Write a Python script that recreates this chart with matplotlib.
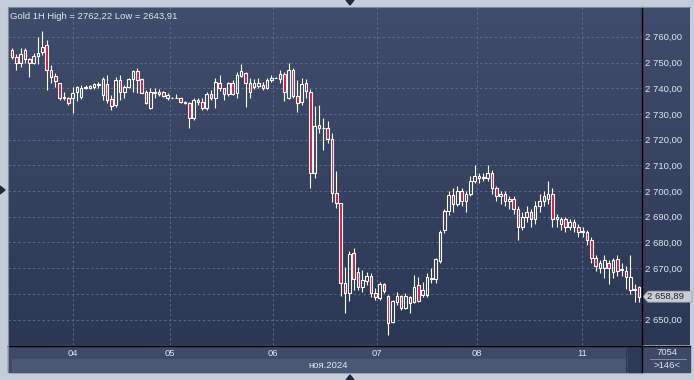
import numpy as np
import matplotlib
matplotlib.use('Agg')
import matplotlib.pyplot as plt
import matplotlib.transforms as mtransforms
from matplotlib.patches import Polygon, Rectangle
from matplotlib.lines import Line2D

# ── Data (Gold 1H) ───────────────────────────────────────────────────────────
opens = [2754.9, 2752.0, 2749.7, 2754.9, 2751.4, 2749.7, 2752.6, 2753.9, 2756.8, 2747.1,
         2744.9, 2741.9, 2736.7, 2736.1, 2736.1, 2738.4, 2736.5, 2740.0, 2740.0, 2740.6,
         2741.3, 2737.4, 2741.6, 2735.8, 2733.5, 2743.2, 2738.4, 2740.6, 2743.5, 2746.7,
         2743.6, 2738.6, 2732.2, 2738.0, 2737.6, 2738.4, 2736.3, 2736.3, 2736.3, 2736.3,
         2734.7, 2734.1, 2728.3, 2735.4, 2734.5, 2732.2, 2737.6, 2736.3, 2741.9, 2740.0,
         2737.6, 2741.9, 2738.0, 2744.9, 2745.8, 2741.9, 2740.6, 2740.9, 2741.2, 2740.2,
         2743.2, 2744.1, 2743.6, 2745.4, 2736.3, 2747.1, 2737.1, 2734.7, 2741.9, 2738.5,
         2707.0, 2725.7, 2724.5, 2724.5, 2720.2, 2699.2, 2695.3, 2664.2, 2660.3, 2675.9,
         2668.6, 2662.8, 2665.1, 2666.9, 2660.2, 2658.2, 2663.8, 2659.1, 2649.1, 2656.9,
         2659.1, 2654.4, 2658.6, 2656.9, 2663.4, 2659.5, 2659.5, 2665.8, 2665.6, 2672.9,
         2684.8, 2692.2, 2698.5, 2695.0, 2700.0, 2696.0, 2699.0, 2704.0, 2706.0, 2705.0,
         2705.0, 2707.0, 2701.0, 2698.0, 2699.0, 2696.0, 2697.0, 2693.0, 2686.0, 2690.0,
         2692.0, 2689.0, 2694.0, 2696.0, 2697.0, 2699.0, 2689.0, 2687.0, 2689.0, 2686.0,
         2688.0, 2686.0, 2684.0, 2684.0, 2681.0, 2674.0, 2670.0, 2670.0, 2672.0, 2668.5,
         2673.5, 2669.3, 2669.0, 2661.5, 2662.0, 2662.6]
highs = [2755.7, 2753.2, 2755.5, 2755.5, 2751.9, 2753.6, 2760.0, 2762.2, 2758.8, 2749.0,
         2745.8, 2741.9, 2738.6, 2736.7, 2740.6, 2740.9, 2741.3, 2741.3, 2741.3, 2742.0,
         2742.5, 2744.5, 2745.1, 2737.4, 2744.5, 2745.1, 2741.2, 2743.9, 2747.1, 2748.0,
         2743.9, 2739.3, 2740.0, 2740.0, 2739.6, 2738.9, 2738.0, 2736.4, 2737.6, 2736.7,
         2735.2, 2734.7, 2736.1, 2736.1, 2736.3, 2738.6, 2739.3, 2743.9, 2745.1, 2740.2,
         2742.5, 2743.2, 2746.4, 2749.5, 2746.4, 2743.9, 2743.6, 2744.0, 2742.5, 2744.0,
         2745.1, 2744.3, 2747.1, 2746.4, 2749.7, 2748.0, 2743.2, 2743.9, 2743.6, 2739.5,
         2733.1, 2733.5, 2728.4, 2727.2, 2722.6, 2707.8, 2695.5, 2670.5, 2676.5, 2677.8,
         2670.5, 2669.3, 2668.6, 2668.0, 2662.2, 2664.7, 2664.3, 2659.5, 2657.6, 2660.8,
         2659.5, 2660.2, 2659.1, 2667.3, 2666.7, 2664.7, 2668.0, 2669.9, 2673.8, 2684.8,
         2693.0, 2700.0, 2701.0, 2702.0, 2701.0, 2700.0, 2706.0, 2710.0, 2707.0, 2707.0,
         2710.0, 2708.0, 2702.0, 2700.0, 2700.0, 2698.0, 2698.0, 2694.0, 2692.0, 2694.0,
         2693.0, 2696.0, 2699.0, 2700.0, 2704.0, 2701.0, 2691.0, 2690.0, 2690.0, 2689.0,
         2689.0, 2687.0, 2686.0, 2685.0, 2682.0, 2675.0, 2673.0, 2675.0, 2673.0, 2674.0,
         2675.0, 2672.0, 2671.0, 2675.0, 2664.0, 2663.0]
lows = [2751.2, 2747.1, 2748.4, 2749.7, 2744.5, 2749.3, 2749.3, 2752.9, 2739.3, 2741.9,
        2740.6, 2735.5, 2735.4, 2733.5, 2730.2, 2735.0, 2735.7, 2739.5, 2739.5, 2739.5,
        2740.0, 2735.4, 2734.2, 2731.5, 2732.8, 2735.4, 2736.1, 2740.0, 2738.6, 2738.0,
        2738.0, 2733.8, 2732.0, 2736.3, 2737.0, 2736.7, 2735.4, 2736.2, 2736.2, 2734.1,
        2733.7, 2724.4, 2727.6, 2733.5, 2731.5, 2731.5, 2735.4, 2732.2, 2738.9, 2735.4,
        2737.0, 2737.4, 2736.3, 2744.5, 2732.8, 2736.1, 2739.7, 2740.0, 2739.3, 2739.7,
        2742.5, 2744.0, 2741.9, 2735.0, 2735.8, 2736.1, 2730.9, 2733.5, 2736.3, 2701.2,
        2705.0, 2722.6, 2716.0, 2718.7, 2695.7, 2693.4, 2659.1, 2652.6, 2657.2, 2661.5,
        2661.5, 2660.8, 2663.4, 2658.9, 2657.6, 2657.6, 2660.2, 2643.9, 2648.6, 2655.6,
        2653.7, 2654.2, 2652.4, 2656.3, 2656.9, 2658.9, 2658.9, 2664.1, 2664.1, 2671.9,
        2683.5, 2690.5, 2692.0, 2694.0, 2694.0, 2692.0, 2698.0, 2703.0, 2703.0, 2704.0,
        2704.0, 2699.0, 2696.0, 2695.0, 2694.0, 2693.0, 2691.0, 2681.0, 2685.0, 2688.0,
        2686.0, 2687.0, 2692.0, 2694.0, 2695.0, 2686.0, 2686.0, 2685.0, 2684.0, 2685.0,
        2684.0, 2682.0, 2682.0, 2679.0, 2672.0, 2669.0, 2668.0, 2666.0, 2664.0, 2666.0,
        2667.0, 2667.0, 2662.0, 2660.0, 2657.0, 2657.0]
closes = [2752.0, 2749.7, 2753.2, 2751.4, 2749.7, 2752.6, 2753.6, 2756.1, 2747.1, 2744.5,
          2742.9, 2736.1, 2736.3, 2734.1, 2738.2, 2740.6, 2740.0, 2740.6, 2741.0, 2741.5,
          2741.6, 2743.6, 2735.4, 2733.2, 2743.2, 2738.6, 2740.6, 2743.6, 2746.7, 2743.2,
          2738.2, 2734.1, 2738.6, 2738.6, 2738.4, 2737.1, 2737.4, 2736.3, 2736.2, 2734.7,
          2734.1, 2728.3, 2735.4, 2734.5, 2732.4, 2737.6, 2736.1, 2742.5, 2740.0, 2737.6,
          2741.9, 2737.6, 2745.1, 2746.7, 2741.9, 2738.6, 2741.9, 2741.9, 2740.0, 2743.2,
          2744.1, 2744.1, 2745.4, 2738.4, 2747.1, 2737.1, 2734.1, 2741.5, 2738.9, 2707.0,
          2725.3, 2724.5, 2724.6, 2720.2, 2699.2, 2695.3, 2664.2, 2660.3, 2675.6, 2665.8,
          2662.8, 2665.4, 2666.9, 2660.2, 2658.6, 2663.8, 2661.2, 2648.8, 2657.3, 2659.1,
          2654.4, 2659.1, 2656.5, 2662.8, 2657.2, 2661.5, 2666.7, 2666.2, 2673.4, 2684.2,
          2692.2, 2698.5, 2695.0, 2700.0, 2696.0, 2699.0, 2704.0, 2706.0, 2705.0, 2705.5,
          2707.0, 2701.0, 2698.0, 2699.0, 2696.0, 2697.0, 2693.0, 2686.0, 2690.0, 2692.0,
          2689.0, 2694.0, 2696.0, 2698.0, 2699.0, 2689.0, 2690.0, 2689.0, 2686.0, 2688.0,
          2686.0, 2684.0, 2684.5, 2681.0, 2674.0, 2671.0, 2672.0, 2673.0, 2670.0, 2673.0,
          2669.0, 2669.5, 2666.5, 2666.5, 2661.5, 2658.89]

day_ticks = [14.1, 36.5, 60.4, 84.5, 107.6, 131.8]
day_labels = ['04', '05', '06', '07', '08', '11']
price_ticks = list(range(2650, 2761, 10))
title_text = 'Gold 1H High = 2762,22 Low = 2643,91'
month_label = 'ноя.2024'
last_price = 2658.89
bar_count = '7054'
visible_bars = '>146<'

# ── Colours ──────────────────────────────────────────────────────────────────
FRAME = '#c4cdd9'
TXT = '#dfe6f0'
RED = '#e0143c'
GRID = '#5a6a8b'

W, H = 694, 380
plt.rcParams['font.family'] = ['Liberation Sans', 'DejaVu Sans']


def fx(x):
    return x / W


def fy(y):
    return 1 - y / H


def ru_fmt(v):
    return f'{v:,.2f}'.replace(',', ' ').replace('.', ',')


fig = plt.figure(figsize=(W / 100, H / 100), dpi=100, facecolor=FRAME)

# bottom strip (day labels + month band) - behind the axes
for (x0, y0, x1, y1, col) in [(8, 345, 642, 372, '#3c4967'),
                              (12, 359, 626, 372, '#4a5876'),
                              (628, 346, 642, 372, '#2c3957'),
                              (643, 346, 690, 372, '#3c4967')]:
    fig.patches.append(Rectangle((fx(x0), fy(y1)), fx(x1 - x0), (y1 - y0) / H,
                                 transform=fig.transFigure, color=col, zorder=-2))

# gradient background for chart + right price panel
bg = fig.add_axes([fx(8), fy(345), fx(690 - 8), (345 - 7) / H])
bg.set_zorder(-1)
grad = np.linspace(0, 1, 256).reshape(-1, 1)
top_c = np.array([0.250, 0.298, 0.420])
bot_c = np.array([0.169, 0.220, 0.333])
img = top_c[None, None, :] * (1 - grad[..., None]) + bot_c[None, None, :] * grad[..., None]
bg.imshow(img, aspect='auto', extent=[0, 1, 0, 1])
bg.axis('off')

# ── Candles ──────────────────────────────────────────────────────────────────
ax = fig.add_axes([fx(8), fy(345), fx(642 - 8), (345 - 7) / H])
ax.set_facecolor('none')
ax.set_zorder(1)

x = np.arange(len(opens))
o = np.array(opens)
c = np.array(closes)
hi = np.array(highs)
lo = np.array(lows)
body_lo = np.minimum(o, c)
body_hi = np.maximum(o, c)
bear = c < o

ax.vlines(x, body_hi, hi, color='white', lw=0.8, zorder=3)
ax.vlines(x, lo, body_lo, color='white', lw=0.8, zorder=3)
ax.bar(x[bear], (body_hi - body_lo)[bear], bottom=body_lo[bear], width=0.6,
       facecolor=RED, edgecolor='white', linewidth=0.8, zorder=4)
ax.bar(x[~bear], (body_hi - body_lo)[~bear], bottom=body_lo[~bear], width=0.6,
       facecolor='none', edgecolor='white', linewidth=0.8, zorder=4)

ax.set_xlim(-0.93, 145.7)
ax.set_ylim(2640.08, 2771.6)

# grid
for v in price_ticks:
    ax.axhline(v, color=GRID, lw=0.7, ls=(0, (2.5, 2.5)), zorder=1)
for t in day_ticks:
    ax.axvline(t, color=GRID, lw=0.7, ls=(0, (2.5, 2.5)), zorder=1)

ax.yaxis.tick_right()
ax.set_yticks(price_ticks)
# the 2660 label sits under the last-price tag, as in the terminal
ax.set_yticklabels(['' if abs(v - last_price) < 5 else ru_fmt(v) for v in price_ticks])
ax.tick_params(axis='y', length=0, pad=2.2, labelsize=6.8, labelcolor=TXT)
ax.set_xticks(day_ticks)
ax.set_xticklabels(day_labels)
ax.tick_params(axis='x', length=0, pad=3, labelsize=6.8, labelcolor=TXT)
for s in ax.spines.values():
    s.set_visible(False)

ax.text(0.003, 0.985, title_text, transform=ax.transAxes, ha='left', va='top',
        fontsize=6.8, color=TXT, zorder=6)

# last price tag
tr = mtransforms.blended_transform_factory(fig.transFigure, ax.transData)
dh = 5.5 / 2.57
tag = Polygon([(fx(643), last_price), (fx(648), last_price + dh), (fx(692), last_price + dh),
               (fx(692), last_price - dh), (fx(648), last_price - dh)],
              closed=True, transform=tr, facecolor='#c9cdd4', edgecolor='#9aa2b0',
              lw=0.6, clip_on=False, zorder=7)
ax.add_patch(tag)
ax.text(fx(647), last_price, ru_fmt(last_price),
        transform=tr, ha='left', va='center', fontsize=6.8, color='#1c2436',
        clip_on=False, zorder=8)

# separators
fig.add_artist(Line2D([fx(642), fx(642)], [fy(7), fy(372)], color='black', lw=1.0))
fig.add_artist(Line2D([fx(8), fx(690)], [fy(345.5), fy(345.5)], color='black', lw=1.0))
fig.add_artist(Line2D([fx(8), fx(8)], [fy(7), fy(372)], color='#7d8aa0', lw=0.8))
fig.add_artist(Line2D([fx(8), fx(690)], [fy(7), fy(7)], color='#7d8aa0', lw=0.8))
fig.add_artist(Line2D([fx(626), fx(626)], [fy(347), fy(372)], color='#2c3957', lw=0.8))
fig.add_artist(Line2D([fx(650), fx(686)], [fy(358.5), fy(358.5)], color='#8c98ae', lw=0.6))

# month label and right-bottom counters
fig.text(fx(328), fy(365.5), month_label, ha='center', va='center', fontsize=6.8, color=TXT)
fig.text(fx(667), fy(352.5), bar_count, ha='center', va='center', fontsize=6.8, color=TXT)
fig.text(fx(667), fy(365), visible_bars, ha='center', va='center', fontsize=6.8, color=TXT)

# frame markers
for pts in ([(346, 0), (354, 0), (350, 5)],
            [(0, 186), (0, 194), (5, 190)],
            [(346, 380), (354, 380), (350, 375)]):
    fig.patches.append(Polygon([(fx(a), fy(b)) for a, b in pts], closed=True,
                               transform=fig.transFigure, color='#1e2a3e', zorder=5))

fig.savefig('out.png', dpi=100, facecolor=FRAME)
